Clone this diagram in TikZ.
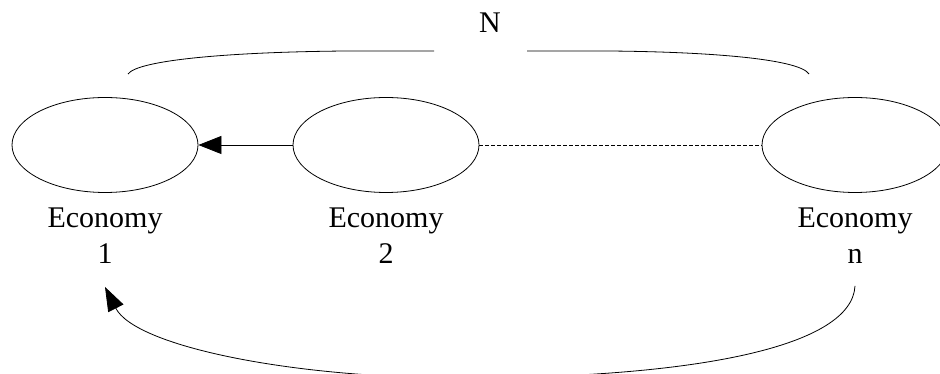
\documentclass[tikz,border=0pt]{standalone}
\usepackage{fontspec}
\setmainfont{Liberation Serif}
\usetikzlibrary{positioning,shapes.geometric,arrows.meta}

\begin{document}
\begin{tikzpicture}[x=1pt,y=1pt,
  econ/.style={ellipse,draw,line width=0.8pt,minimum width=186pt,minimum height=95pt,inner sep=0pt},
  lab/.style={align=center,font=\fontsize{30}{36}\selectfont,inner sep=0pt},
  link/.style={line width=0.8pt}]
\useasboundingbox (0,0) rectangle (940,374);
\node[econ] (e1) at (105,229) {};
\node[econ] (e2) at (386,229) {};
\node[econ] (en) at (855,229) {};
\node[lab,below=15pt of e1] (l1) {Economy\\1};
\node[lab,below=15pt of e2] (l2) {Economy\\2};
\node[lab,below=15pt of en] (ln) {Economy\\n};
\node[lab,anchor=base] (total) at (490,341) {N};
\draw[link] (128,300) .. controls (138,314) and (230,322) .. (346,323) -- (434,323);
\draw[link] (527,323) -- (609,323) .. controls (720,322) and (800,314) .. (809,300);
\draw[link,-{Triangle[length=23pt,width=18pt]}] (e2) -- (e1);
\draw[link,dash pattern=on 4pt off 2pt] (e2) -- (en);
\draw[link,-{Triangle[length=24pt,width=17pt]}] ([yshift=-22pt]ln.south) .. controls (852,28) and (700,-4) .. (460,-4) .. controls (290,-4) and (135,28) .. ([yshift=-23pt]l1.south);
\end{tikzpicture}
\end{document}
